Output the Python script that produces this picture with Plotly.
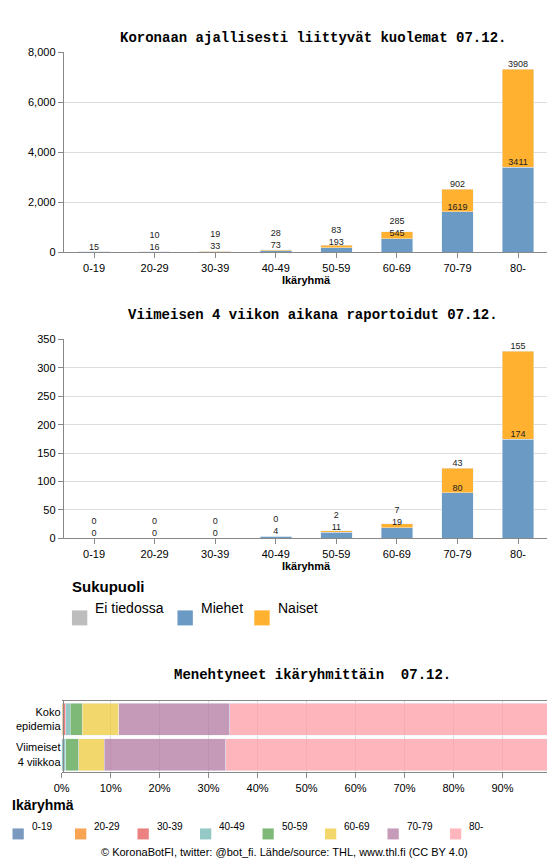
import plotly.graph_objects as go

ages = ["0-19","20-29","30-39","40-49","50-59","60-69","70-79","80-"]
tot_unknown = [15,0,0,0,0,0,0,0]
tot_men = [0,16,33,73,193,545,1619,3411]
tot_women = [0,10,19,28,83,285,902,3908]
rec_men = [0,0,0,4,11,19,80,174]
rec_women = [0,0,0,0,2,7,43,155]
row_names = ["Koko<br>epidemia","Viimeiset<br>4 viikkoa"]
x_ticks = ["0%","10%","20%","30%","40%","50%","60%","70%","80%","90%","100%"]

GREY, BLUE, ORANGE = "#bdbdbd", "#6b9bc4", "#ffb12f"
AGECOL = ["#4c78a8","#f58518","#e45756","#72b7b2","#54a24b","#eeca3b","#b279a2","#ff9da6"]
H, W = 867, 555
def py(p): return 1 - ((p - 13.7) / 0.986) / H
def px(p): return ((p - 15.4) / 0.962) / W

fig = go.Figure()
FONT = "Liberation Sans, Arial"

def stacked(unk, men, wom, xa, ya, gap):
    fig.add_bar(x=ages, y=unk, marker_color=GREY, xaxis=xa, yaxis=ya, showlegend=False)
    fig.add_bar(x=ages, y=men, marker_color=BLUE, xaxis=xa, yaxis=ya, showlegend=False)
    fig.add_bar(x=ages, y=wom, marker_color=ORANGE, xaxis=xa, yaxis=ya, showlegend=False)
    tops, base, lab_top, lab_low = [], [], [], []
    for u, m, w in zip(unk, men, wom):
        b = u + m
        base.append(b)
        tops.append(max(b + w, b + gap))
        if u and not m and not w:
            lab_top.append(""); lab_low.append(str(u))
        else:
            lab_top.append(str(w)); lab_low.append(str(m))
    fig.add_scatter(x=ages, y=tops, text=lab_top, mode="text", textposition="top center",
                    textfont=dict(size=9, color="#222"), xaxis=xa, yaxis=ya, showlegend=False, cliponaxis=False)
    fig.add_scatter(x=ages, y=base, text=lab_low, mode="text", textposition="top center",
                    textfont=dict(size=9, color="#222"), xaxis=xa, yaxis=ya, showlegend=False, cliponaxis=False)

stacked(tot_unknown, tot_men, tot_women, "x", "y", 480)
stacked([0]*8, rec_men, rec_women, "x2", "y2", 21)

tot_all = [u+m+w for u, m, w in zip(tot_unknown, tot_men, tot_women)]
rec_all = [m+w for m, w in zip(rec_men, rec_women)]
s1, s2 = sum(tot_all), sum(rec_all)
for i, a in enumerate(ages):
    fig.add_bar(y=row_names, x=[tot_all[i]/s1*100, rec_all[i]/s2*100], orientation="h", width=0.9,
                marker=dict(color=AGECOL[i], opacity=0.75), xaxis="x3", yaxis="y3", showlegend=False)

ax = dict(showline=True, linecolor="#888", ticks="outside", tickcolor="#888", tickfont=dict(size=11, color="#000"))
fig.update_layout(
    width=W, height=H, margin=dict(l=0, r=0, t=0, b=0), barmode="stack", bargap=0.48,
    plot_bgcolor="white", paper_bgcolor="white", font=dict(family=FONT, color="#000"),
    xaxis=dict(domain=[px(62), px(535)], anchor="y", title=dict(text="<b>Ikäryhmä</b>", font=dict(size=11), standoff=2), **ax),
    yaxis=dict(domain=[py(252), py(52)], range=[0, 8000], tickformat=",", gridcolor="#ddd", dtick=2000, **ax),
    xaxis2=dict(domain=[px(62), px(535)], anchor="y2", title=dict(text="<b>Ikäryhmä</b>", font=dict(size=11), standoff=2), **ax),
    yaxis2=dict(domain=[py(538), py(339)], range=[0, 350], dtick=50, gridcolor="#ddd", **ax),
    xaxis3=dict(domain=[px(60), px(538)], anchor="y3", range=[0, 100], tickvals=list(range(0, 101, 10)),
                ticktext=x_ticks, gridcolor="#ddd", mirror=True, **ax),
    yaxis3=dict(domain=[py(772), py(701)], autorange="reversed", showline=True, linecolor="#888", mirror=True,
                tickfont=dict(size=11), ticks=""),
)

mono = "Liberation Mono, Courier New"
for t, y in [("Koronaan ajallisesti liittyvät kuolemat 07.12.", 28),
             ("Viimeisen 4 viikon aikana raportoidut 07.12.", 315),
             ("Menehtyneet ikäryhmittäin  07.12.", 685)]:
    fig.add_annotation(text=f"<b>{t}</b>", x=px(305), y=py(y), xref="paper", yref="paper",
                       showarrow=False, font=dict(family=mono, size=14))

fig.add_annotation(text="<b>Sukupuoli</b>", x=px(68), y=py(597), xref="paper", yref="paper",
                   xanchor="left", showarrow=False, font=dict(size=15))
for lab, col, x0 in [("Ei tiedossa", GREY, 70), ("Miehet", BLUE, 173), ("Naiset", ORANGE, 248)]:
    fig.add_shape(type="rect", xref="paper", yref="paper", x0=px(x0), x1=px(x0+15), y0=py(625), y1=py(610),
                  fillcolor=col, line_width=0)
    fig.add_annotation(text=lab, x=px(x0+21), y=py(618), xref="paper", yref="paper", xanchor="left",
                       showarrow=False, font=dict(size=14))

fig.add_annotation(text="<b>Ikäryhmä</b>", x=px(10), y=py(815), xref="paper", yref="paper",
                   xanchor="left", showarrow=False, font=dict(size=14))
for i, a in enumerate(ages):
    x0 = 12 + i*61
    fig.add_shape(type="rect", xref="paper", yref="paper", x0=px(x0), x1=px(x0+11), y0=py(839), y1=py(828),
                  fillcolor=AGECOL[i], opacity=0.75, line_width=0)
    fig.add_annotation(text=a, x=px(x0+17), y=py(834), xref="paper", yref="paper", xanchor="left",
                       showarrow=False, font=dict(size=10))

fig.add_annotation(text="© KoronaBotFI, twitter: @bot_fi. Lähde/source: THL, www.thl.fi (CC BY 4.0)",
                   x=px(277), y=py(860), xref="paper", yref="paper", showarrow=False, font=dict(size=11))

fig.write_html("out.html")
